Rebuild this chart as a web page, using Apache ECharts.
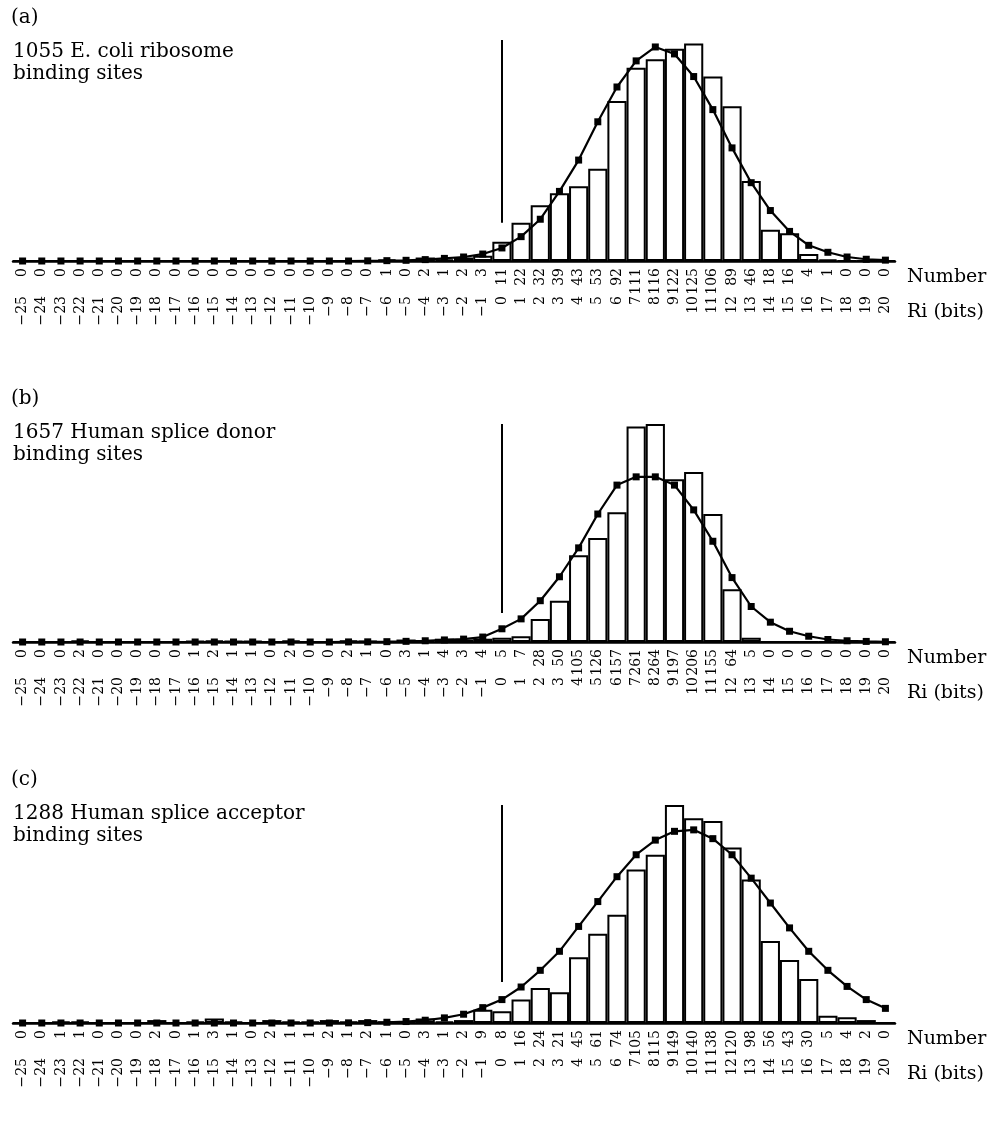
<!DOCTYPE html>
<html>
<head>
<meta charset="utf-8">
<script src="https://cdn.jsdelivr.net/npm/echarts@6/dist/echarts.min.js"></script>
<style>
  html, body { margin: 0; padding: 0; background: #fff; }
  #main { width: 993px; height: 1124px; }
</style>
</head>
<body>
<div id="main"></div>
<script>
// Ri bins, -25 .. 20 bits
var riBins = [];
for (var r = -25; r <= 20; r++) riBins.push(String(r));

// (a) E. coli ribosome binding sites
var countsA = [0,0,0,0,0,0,0,0,0,0,0,0,0,0,0,0,0,0,0,1,0,2,1,2,3,
  11,22,32,39,43,53,92,111,116,122,125,106,89,46,18,16,4,1,0,0,0];
var curveA = [0,0,0,0,0,0,0,0,0,0,0,0,0,0,0,0,0,0,0.1,0.2,0.4,0.8,1.5,2.3,4,
  7.5,14,24,40,58,80,100,115,123,119,106,87,65,45,29,17,9,5,2.3,1,0.5];

// (b) human splice donor
var countsB = [0,0,0,2,0,0,0,0,0,1,2,1,1,0,2,0,0,2,1,0,3,1,4,3,4,
  5,7,28,50,105,126,157,261,264,197,206,155,64,5,0,0,0,0,0,0,0];
var curveB = [0,0,0,0,0,0,0,0,0,0,0,0,0,0,0,0,0,0.1,0.2,0.4,0.8,1.5,2.5,3.5,6,
  16,28,50,79,114,155,190,200,200,190,160,122,78,43,24,13,7,3,1.5,0.7,0.3];

// (c) human splice acceptor
var countsC = [0,0,1,1,0,0,0,2,0,1,3,1,0,2,1,1,2,1,2,1,0,3,1,2,9,
  8,16,24,21,45,61,74,105,115,149,140,138,120,98,56,43,30,5,4,2,0];
var curveC = [0,0,0,0,0,0,0,0,0,0,0,0,0,0,0,0,0,
  0.1,0.25,0.5,1,1.9,3.5,6,10.5,
  16,24.6,36,49,66,83,100,115,125,131,132,126,115,99,82,65,49,36,25,16,10];

var panels = [
  { tag: '(a)', title: '1055 E. coli ribosome\nbinding sites', counts: countsA, curve: curveA,
    top: 40, max: 127, lineFrom: 22 },
  { tag: '(b)', title: '1657 Human splice donor\nbinding sites', counts: countsB, curve: curveB,
    top: 424, max: 264, lineFrom: 35 },
  { tag: '(c)', title: '1288 Human splice acceptor\nbinding sites', counts: countsC, curve: curveC,
    top: 805, max: 149, lineFrom: 28 }
];

var serif = 'DejaVu Serif';
var baseLines = [261, 642, 1023];
var grid = [], xAxis = [], yAxis = [], series = [], title = [], graphic = [];

panels.forEach(function (p, k) {
  var base = baseLines[k];
  grid.push({ left: 13, right: 98, top: p.top, height: base - p.top });
  // one axis, label = "Ri" (lower) + "count" (upper), rotated
  xAxis.push({
    type: 'category', gridIndex: k, data: riBins, position: 'bottom',
    axisLine: { lineStyle: { color: '#000', width: 2.5 } },
    axisTick: { show: false },
    axisLabel: {
      interval: 0, rotate: 90, margin: 7, color: '#000',
      fontFamily: serif, fontSize: 14,
      formatter: (function (c) {
        return function (v, i) {
          return '{r|' + v.replace('-', '\u2212') + '}{c|' + c[i] + '}';
        };
      })(p.counts),
      rich: {
        r: { width: 34, align: 'right', fontFamily: serif, fontSize: 14, color: '#000' },
        c: { width: 28, align: 'right', fontFamily: serif, fontSize: 14, color: '#000' }
      }
    }
  });
  yAxis.push({ type: 'value', gridIndex: k, min: 0, max: p.max, show: false, splitLine: { show: false } });

  series.push({
    type: 'bar', xAxisIndex: k, yAxisIndex: k, data: p.counts,
    barCategoryGap: '0%',
    itemStyle: { color: '#fff', borderColor: '#000', borderWidth: 2 },
    silent: true,
    markLine: {
      symbol: 'none', silent: true, label: { show: false },
      lineStyle: { color: '#000', width: 2, type: 'solid' },
      data: [[{ coord: ['0', p.lineFrom] }, { coord: ['0', p.max] }]]
    }
  });
  series.push({
    type: 'line', xAxisIndex: k, yAxisIndex: k, data: p.curve,
    symbol: 'rect', symbolSize: 7, showSymbol: true,
    itemStyle: { color: '#000' },
    lineStyle: { color: '#000', width: 2.2 },
    z: 5, silent: true
  });

  var off = k * 381;
  title.push({ text: p.tag, left: 6, top: 3 + off,
    textStyle: { fontFamily: serif, fontSize: 20, fontWeight: 'normal', color: '#000' } });
  title.push({ text: p.title, left: 8, top: 36 + off,
    textStyle: { fontFamily: serif, fontSize: 20, fontWeight: 'normal', color: '#000', lineHeight: 22 } });
  graphic.push({ type: 'text', left: 907, top: base + 7,
    style: { text: 'Number', font: '19px "DejaVu Serif"', fill: '#000' } });
  graphic.push({ type: 'text', left: 907, top: base + 42,
    style: { text: 'Ri (bits)', font: '19px "DejaVu Serif"', fill: '#000' } });
});

var chart = echarts.init(document.getElementById('main'));
chart.setOption({
  animation: false,
  backgroundColor: '#fff',
  title: title,
  grid: grid,
  xAxis: xAxis,
  yAxis: yAxis,
  series: series,
  graphic: graphic
});
</script>
</body>
</html>
